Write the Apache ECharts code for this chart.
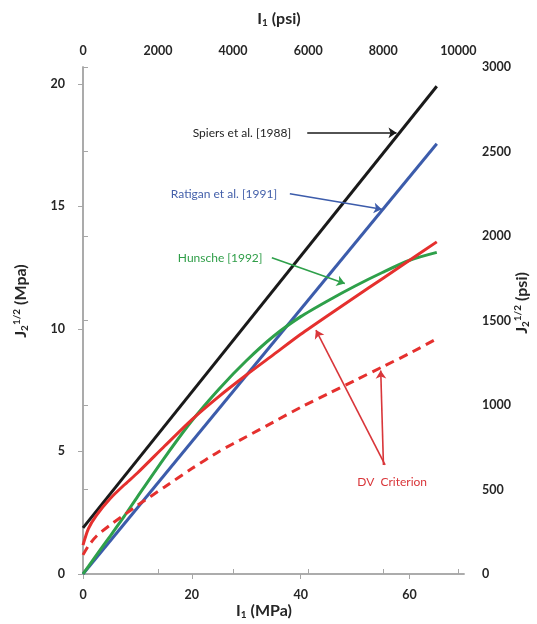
<!DOCTYPE html>
<html>
<head>
<meta charset="utf-8">
<script src="https://cdn.jsdelivr.net/npm/echarts@6/dist/echarts.min.js"></script>
<style>
  html, body { margin: 0; padding: 0; background: #ffffff; }
  #chart { width: 537px; height: 624px; }
</style>
</head>
<body>
<div id="chart"></div>
<script>
// Unit conversion between the MPa axes (bottom/left) and the psi axes (top/right)
const PSI_PER_MPA = 145.038;

// Axis ranges
const i1MaxMPa = 70;
const j2MaxPsi = 3000;

// First stress invariant I1 (MPa) sampled along the curved criteria
const i1 = [0, 1, 2.5, 5, 7.5, 10, 15, 20, 25, 30, 35, 40, 45, 50, 55, 60, 65];

// sqrt(J2) (MPa) for each criterion
const dvSolid  = [1.18, 1.85, 2.4, 3.08, 3.62, 4.12, 5.22, 6.3, 7.25, 8.12, 8.95, 9.78, 10.55, 11.3, 12.05, 12.8, 13.55];
const dvDashed = [0.78, 1.15, 1.55, 2.0, 2.4, 2.8, 3.55, 4.3, 5.0, 5.6, 6.2, 6.8, 7.35, 7.9, 8.45, 9.0, 9.6];
const hunsche  = [0, 0.31, 0.78, 1.55, 2.33, 3.15, 4.75, 6.25, 7.55, 8.7, 9.7, 10.5, 11.15, 11.75, 12.3, 12.8, 13.12];

// Straight-line criteria: end points
const spiersI1  = [0, 65];
const spiers    = [1.88, 19.9];
const ratiganI1 = [0, 65];
const ratigan   = [0, 17.55];

// Callout texts and their anchors in (I1 MPa, sqrt(J2) MPa)
const calloutText  = ['Spiers et al. [1988]', 'Ratigan et al. [1991]', 'Hunsche [1992]', 'DV  Criterion'];
const calloutAt    = [[29.2, 18.0], [25.9, 15.51], [25.2, 12.9], [56.8, 3.76]];
const calloutColor = ['#1e1e1e', '#4460aa', '#2f9e48', '#d9363a'];

// Arrows from callouts to curves: [from, to]
const spiersArrow  = [[41.2, 18.0], [57.6, 18.0]];
const ratiganArrow = [[38.0, 15.51], [54.9, 14.88]];
const hunscheArrow = [[34.7, 12.9], [48.1, 11.85]];
const dvArrows     = [[[55.5, 4.45], [42.8, 9.95]], [[55.2, 4.45], [54.7, 8.3]]];

const pairs = (xs, ys) => xs.map((x, k) => [x, ys[k]]);
const arrowData = (seg) => [[{ coord: seg[0] }, { coord: seg[1] }]];
const plain = (v) => String(Math.round(v));

const FONT = 'Lato, "Open Sans", "Liberation Sans", sans-serif';
const axisGray = '#a6a6a6';
const labelStyle = { fontFamily: FONT, fontWeight: 'bold', fontSize: 12.5, color: '#262626', formatter: plain };

function arrowMark(data, color) {
  return {
    silent: true,
    symbol: ['none', 'arrow'],
    symbolSize: 8,
    label: { show: false },
    lineStyle: { color: color, width: 1.6, type: 'solid' },
    emphasis: { disabled: true },
    data: data
  };
}

function curve(name, data, color, dashed, marks) {
  const s = {
    name: name,
    type: 'line',
    xAxisIndex: 0,
    yAxisIndex: 0,
    data: data,
    smooth: 0.25,
    showSymbol: false,
    symbol: 'none',
    lineStyle: { color: color, width: 3, type: dashed ? [9, 6] : 'solid' },
    emphasis: { disabled: true },
    z: 3
  };
  if (marks) s.markLine = marks;
  return s;
}

const chart = echarts.init(document.getElementById('chart'), null, { renderer: 'canvas' });

chart.setOption({
  animation: false,
  backgroundColor: '#ffffff',
  grid: { left: 83, right: 73, top: 67, bottom: 50, containLabel: false },
  xAxis: [
    {
      type: 'value', position: 'bottom', min: 0, max: i1MaxMPa, interval: 20,
      axisLine: { show: true, lineStyle: { color: axisGray, width: 1.5 } },
      axisTick: { show: true, length: 5, lineStyle: { color: axisGray } },
      splitLine: { show: false },
      axisLabel: Object.assign({ margin: 14, showMaxLabel: false }, labelStyle)
    },
    {
      type: 'value', position: 'top', min: 0, max: i1MaxMPa * PSI_PER_MPA, interval: 2000,
      axisLine: { show: true, lineStyle: { color: axisGray, width: 1.5 } },
      axisTick: { show: true, length: 5, lineStyle: { color: axisGray } },
      splitLine: { show: false },
      axisLabel: Object.assign({ margin: 10, showMaxLabel: false }, labelStyle)
    }
  ],
  yAxis: [
    {
      type: 'value', position: 'left', min: 0, max: j2MaxPsi / PSI_PER_MPA, interval: 5,
      axisLine: { show: true, lineStyle: { color: axisGray, width: 1.5 } },
      axisTick: { show: true, length: 5, lineStyle: { color: axisGray } },
      splitLine: { show: false },
      axisLabel: Object.assign({ margin: 18, showMaxLabel: false }, labelStyle)
    },
    {
      type: 'value', position: 'right', min: 0, max: j2MaxPsi, interval: 500,
      axisLine: { show: true, lineStyle: { color: axisGray, width: 1.5 } },
      axisTick: { show: true, length: 5, lineStyle: { color: axisGray } },
      splitLine: { show: false },
      axisLabel: Object.assign({ margin: 18 }, labelStyle)
    }
  ],
  series: [
    curve('Spiers et al. [1988]', pairs(spiersI1, spiers), '#1a1a1a', false, arrowMark(arrowData(spiersArrow), '#1a1a1a')),
    curve('Ratigan et al. [1991]', pairs(ratiganI1, ratigan), '#3c5cab', false, arrowMark(arrowData(ratiganArrow), '#3c5cab')),
    curve('Hunsche [1992]', pairs(i1, hunsche), '#2ea04a', false, arrowMark(arrowData(hunscheArrow), '#2ea04a')),
    curve('DV Criterion', pairs(i1, dvSolid), '#e5302e', false,
      arrowMark(dvArrows.map(seg => [{ coord: seg[0] }, { coord: seg[1] }]), '#d9363a')),
    curve('DV Criterion (dashed)', pairs(i1, dvDashed), '#e5302e', true, null)
  ]
});

// Axis titles with sub/superscripts
const titleRich = {
  b:   { fontFamily: FONT, fontWeight: 'bold', fontSize: 16, fill: '#262626' },
  sub: { fontFamily: FONT, fontWeight: 'bold', fontSize: 10, fill: '#262626', padding: [7, 0, 0, 0] },
  sup: { fontFamily: FONT, fontWeight: 'bold', fontSize: 10, fill: '#262626', padding: [0, 0, 9, 0] }
};
function titleText(x, y, text, rotation) {
  return {
    type: 'text', x: x, y: y, rotation: rotation || 0, silent: true,
    style: { text: text, rich: titleRich, align: 'center', verticalAlign: 'middle',
             fontFamily: FONT, fontWeight: 'bold', fontSize: 16, fill: '#262626' }
  };
}

const graphics = [
  titleText(279, 19, '{b|I}{sub|1}{b| (psi)}'),
  titleText(264, 611, '{b|I}{sub|1}{b| (MPa)}'),
  titleText(21, 301, '{b|J}{sub|2}{sup|1/2}{b| (Mpa)}', Math.PI / 2),
  titleText(522, 303, '{b|J}{sub|2}{sup|1/2}{b| (psi)}', Math.PI / 2)
];

// Callout labels placed at data coordinates
calloutText.forEach((t, k) => {
  const p = chart.convertToPixel({ xAxisIndex: 0, yAxisIndex: 0 }, calloutAt[k]);
  graphics.push({
    type: 'text', x: p[0], y: p[1], silent: true,
    style: { text: t, align: 'center', verticalAlign: 'middle',
             fontFamily: FONT, fontSize: 12, fill: calloutColor[k] }
  });
});

chart.setOption({ graphic: graphics });
</script>
</body>
</html>
